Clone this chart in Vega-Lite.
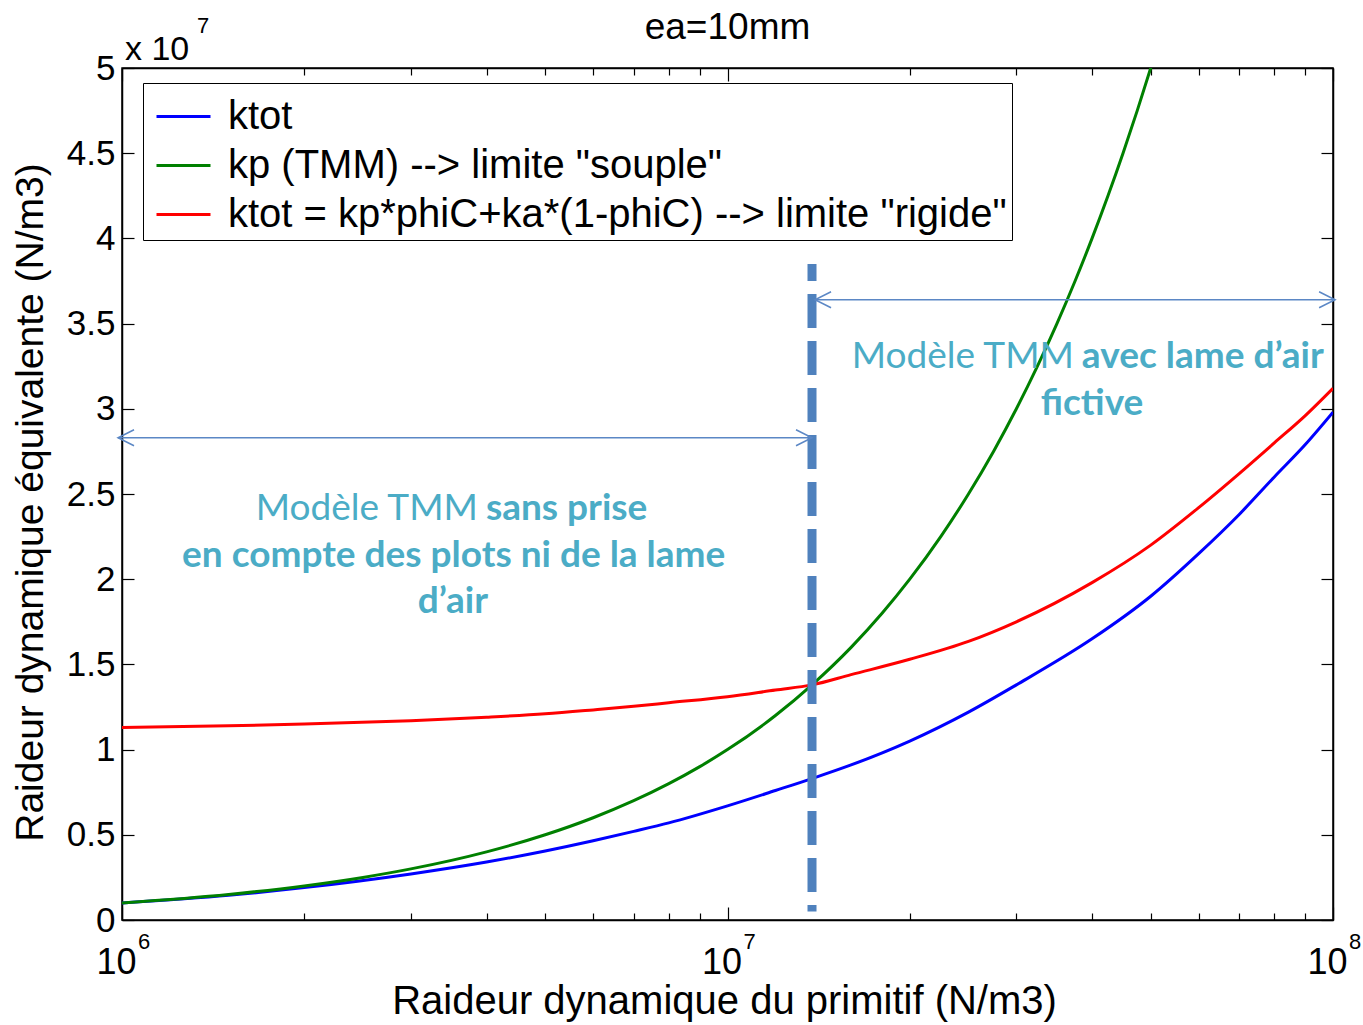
{
  "$schema": "https://vega.github.io/schema/vega-lite/v6.json",
  "width": 1211,
  "height": 852,
  "autosize": {"type": "none"},
  "padding": {"left": 122, "top": 68, "right": 30, "bottom": 105},
  "background": "white",
  "config": {
    "font": "Liberation Sans",
    "view": {"stroke": "black", "strokeWidth": 1.5},
    "axis": {"grid": false, "domainColor": "black", "domainWidth": 1.5, "tickColor": "black", "tickWidth": 1.2, "labelColor": "black", "titleColor": "black", "labelFont": "Liberation Sans", "titleFont": "Liberation Sans", "titleFontWeight": "normal", "labelOverlap": false, "labelFlush": false, "labelBound": false}
  },
  "datasets": {
    "curves": [
      {"serie": "ktot", "k": 1000000, "v": 0.10},
      {"serie": "ktot", "k": 1500000, "v": 0.145},
      {"serie": "ktot", "k": 2000000, "v": 0.19},
      {"serie": "ktot", "k": 3000000, "v": 0.27},
      {"serie": "ktot", "k": 4000000, "v": 0.34},
      {"serie": "ktot", "k": 5000000, "v": 0.405},
      {"serie": "ktot", "k": 6000000, "v": 0.465},
      {"serie": "ktot", "k": 7000000, "v": 0.52},
      {"serie": "ktot", "k": 8000000, "v": 0.57},
      {"serie": "ktot", "k": 10000000, "v": 0.67},
      {"serie": "ktot", "k": 12000000, "v": 0.76},
      {"serie": "ktot", "k": 13790000, "v": 0.83},
      {"serie": "ktot", "k": 16000000, "v": 0.91},
      {"serie": "ktot", "k": 20000000, "v": 1.05},
      {"serie": "ktot", "k": 25000000, "v": 1.22},
      {"serie": "ktot", "k": 30000000, "v": 1.38},
      {"serie": "ktot", "k": 40000000, "v": 1.65},
      {"serie": "ktot", "k": 50000000, "v": 1.9},
      {"serie": "ktot", "k": 60000000, "v": 2.15},
      {"serie": "ktot", "k": 70000000, "v": 2.38},
      {"serie": "ktot", "k": 80000000, "v": 2.6},
      {"serie": "ktot", "k": 90000000, "v": 2.79},
      {"serie": "ktot", "k": 100000000, "v": 2.98},
      {"serie": "kp (TMM) --> limite \"souple\"", "k": 1000000, "v": 0.1},
      {"serie": "kp (TMM) --> limite \"souple\"", "k": 1500000, "v": 0.15},
      {"serie": "kp (TMM) --> limite \"souple\"", "k": 2000000, "v": 0.2},
      {"serie": "kp (TMM) --> limite \"souple\"", "k": 2500000, "v": 0.25},
      {"serie": "kp (TMM) --> limite \"souple\"", "k": 3000000, "v": 0.3},
      {"serie": "kp (TMM) --> limite \"souple\"", "k": 4000000, "v": 0.4},
      {"serie": "kp (TMM) --> limite \"souple\"", "k": 5000000, "v": 0.5},
      {"serie": "kp (TMM) --> limite \"souple\"", "k": 6000000, "v": 0.6},
      {"serie": "kp (TMM) --> limite \"souple\"", "k": 7000000, "v": 0.7},
      {"serie": "kp (TMM) --> limite \"souple\"", "k": 8000000, "v": 0.8},
      {"serie": "kp (TMM) --> limite \"souple\"", "k": 9000000, "v": 0.9},
      {"serie": "kp (TMM) --> limite \"souple\"", "k": 10000000, "v": 1.0},
      {"serie": "kp (TMM) --> limite \"souple\"", "k": 12000000, "v": 1.2},
      {"serie": "kp (TMM) --> limite \"souple\"", "k": 13790000, "v": 1.38},
      {"serie": "kp (TMM) --> limite \"souple\"", "k": 16000000, "v": 1.6},
      {"serie": "kp (TMM) --> limite \"souple\"", "k": 18000000, "v": 1.8},
      {"serie": "kp (TMM) --> limite \"souple\"", "k": 20000000, "v": 2.0},
      {"serie": "kp (TMM) --> limite \"souple\"", "k": 22500000, "v": 2.25},
      {"serie": "kp (TMM) --> limite \"souple\"", "k": 25000000, "v": 2.5},
      {"serie": "kp (TMM) --> limite \"souple\"", "k": 27500000, "v": 2.75},
      {"serie": "kp (TMM) --> limite \"souple\"", "k": 30000000, "v": 3.0},
      {"serie": "kp (TMM) --> limite \"souple\"", "k": 32500000, "v": 3.25},
      {"serie": "kp (TMM) --> limite \"souple\"", "k": 35000000, "v": 3.5},
      {"serie": "kp (TMM) --> limite \"souple\"", "k": 37500000, "v": 3.75},
      {"serie": "kp (TMM) --> limite \"souple\"", "k": 40000000, "v": 4.0},
      {"serie": "kp (TMM) --> limite \"souple\"", "k": 42500000, "v": 4.25},
      {"serie": "kp (TMM) --> limite \"souple\"", "k": 45000000, "v": 4.5},
      {"serie": "kp (TMM) --> limite \"souple\"", "k": 47500000, "v": 4.75},
      {"serie": "kp (TMM) --> limite \"souple\"", "k": 50000000, "v": 5.0},
      {"serie": "kp (TMM) --> limite \"souple\"", "k": 52500000, "v": 5.25},
      {"serie": "kp (TMM) --> limite \"souple\"", "k": 55000000, "v": 5.5},
      {"serie": "ktot = kp*phiC+ka*(1-phiC) --> limite \"rigide\"", "k": 1000000, "v": 1.13},
      {"serie": "ktot = kp*phiC+ka*(1-phiC) --> limite \"rigide\"", "k": 1500000, "v": 1.14},
      {"serie": "ktot = kp*phiC+ka*(1-phiC) --> limite \"rigide\"", "k": 2000000, "v": 1.15},
      {"serie": "ktot = kp*phiC+ka*(1-phiC) --> limite \"rigide\"", "k": 3000000, "v": 1.17},
      {"serie": "ktot = kp*phiC+ka*(1-phiC) --> limite \"rigide\"", "k": 4000000, "v": 1.19},
      {"serie": "ktot = kp*phiC+ka*(1-phiC) --> limite \"rigide\"", "k": 5000000, "v": 1.21},
      {"serie": "ktot = kp*phiC+ka*(1-phiC) --> limite \"rigide\"", "k": 6000000, "v": 1.233},
      {"serie": "ktot = kp*phiC+ka*(1-phiC) --> limite \"rigide\"", "k": 7000000, "v": 1.254},
      {"serie": "ktot = kp*phiC+ka*(1-phiC) --> limite \"rigide\"", "k": 8000000, "v": 1.275},
      {"serie": "ktot = kp*phiC+ka*(1-phiC) --> limite \"rigide\"", "k": 10000000, "v": 1.31},
      {"serie": "ktot = kp*phiC+ka*(1-phiC) --> limite \"rigide\"", "k": 12000000, "v": 1.35},
      {"serie": "ktot = kp*phiC+ka*(1-phiC) --> limite \"rigide\"", "k": 13790000, "v": 1.38},
      {"serie": "ktot = kp*phiC+ka*(1-phiC) --> limite \"rigide\"", "k": 16000000, "v": 1.44},
      {"serie": "ktot = kp*phiC+ka*(1-phiC) --> limite \"rigide\"", "k": 20000000, "v": 1.53},
      {"serie": "ktot = kp*phiC+ka*(1-phiC) --> limite \"rigide\"", "k": 25000000, "v": 1.635},
      {"serie": "ktot = kp*phiC+ka*(1-phiC) --> limite \"rigide\"", "k": 30000000, "v": 1.75},
      {"serie": "ktot = kp*phiC+ka*(1-phiC) --> limite \"rigide\"", "k": 40000000, "v": 1.98},
      {"serie": "ktot = kp*phiC+ka*(1-phiC) --> limite \"rigide\"", "k": 50000000, "v": 2.2},
      {"serie": "ktot = kp*phiC+ka*(1-phiC) --> limite \"rigide\"", "k": 60000000, "v": 2.42},
      {"serie": "ktot = kp*phiC+ka*(1-phiC) --> limite \"rigide\"", "k": 70000000, "v": 2.62},
      {"serie": "ktot = kp*phiC+ka*(1-phiC) --> limite \"rigide\"", "k": 80000000, "v": 2.8},
      {"serie": "ktot = kp*phiC+ka*(1-phiC) --> limite \"rigide\"", "k": 90000000, "v": 2.96},
      {"serie": "ktot = kp*phiC+ka*(1-phiC) --> limite \"rigide\"", "k": 100000000, "v": 3.12}
    ]
  },
  "layer": [
    {
      "data": {"name": "curves"},
      "mark": {"type": "line", "strokeWidth": 3, "clip": true, "interpolate": "monotone"},
      "encoding": {
        "x": {"field": "k", "type": "quantitative",
          "scale": {"type": "log", "domain": [1000000, 100000000], "nice": false},
          "axis": {"orient": "bottom",
            "values": [1000000, 2000000, 3000000, 4000000, 5000000, 6000000, 7000000, 8000000, 9000000, 10000000, 20000000, 30000000, 40000000, 50000000, 60000000, 70000000, 80000000, 90000000, 100000000],
            "labelExpr": "(datum.value == 1000000 || datum.value == 10000000 || datum.value == 100000000) ? '10' : ''",
            "tickSize": {"condition": {"test": "datum.value == 1000000 || datum.value == 10000000 || datum.value == 100000000", "value": -13}, "value": -7},
            "labelFontSize": 36, "labelAlign": "center", "labelOffset": -6, "labelPadding": 38, "labelBaseline": "top",
            "title": "Raideur dynamique du primitif (N/m3)", "titleFontSize": 40,
            "titleX": 602, "titleY": 93, "titleBaseline": "alphabetic", "titleAlign": "center", "titleAnchor": null}},
        "y": {"field": "v", "type": "quantitative",
          "scale": {"domain": [0, 5], "nice": false, "zero": false},
          "axis": {"orient": "left",
            "values": [0, 0.5, 1, 1.5, 2, 2.5, 3, 3.5, 4, 4.5, 5],
            "labelExpr": "datum.value + ''",
            "tickSize": -12, "labelFontSize": 35, "labelPadding": 19, "labelBaseline": "middle",
            "title": "Raideur dynamique équivalente (N/m3)", "titleFontSize": 39,
            "titleX": -80, "titleY": 434, "titleAngle": -90, "titleBaseline": "alphabetic", "titleAlign": "center", "titleAnchor": null}},
        "color": {"field": "serie", "type": "nominal", "sort": null,
          "scale": {"domain": ["ktot", "kp (TMM) --> limite \"souple\"", "ktot = kp*phiC+ka*(1-phiC) --> limite \"rigide\""], "range": ["#0000ff", "#008000", "#ff0000"]},
          "legend": {"orient": "none", "legendX": 21, "legendY": 15, "title": null,
            "strokeColor": "black", "fillColor": "white", "padding": 5,
            "symbolType": "stroke", "symbolStrokeWidth": 3, "symbolSize": 2916, "symbolOpacity": 1, "symbolOffset": 7,
            "labelFontSize": 40, "labelFont": "Liberation Sans", "labelColor": "black", "labelLimit": 1200, "labelOffset": 16, "rowPadding": -4}}
      }
    },
    {
      "data": {"values": [{"k": 13790000, "y1": 0.05, "y2": 3.85}]},
      "mark": {"type": "rule", "color": "#4f81bd", "strokeWidth": 9, "strokeDash": [34, 13], "strokeDashOffset": 17},
      "encoding": {
        "x": {"field": "k", "type": "quantitative",
          "axis": {"orient": "top", "values": [1000000, 2000000, 3000000, 4000000, 5000000, 6000000, 7000000, 8000000, 9000000, 10000000, 20000000, 30000000, 40000000, 50000000, 60000000, 70000000, 80000000, 90000000, 100000000],
            "labels": false, "title": null,
            "tickSize": {"condition": {"test": "datum.value == 1000000 || datum.value == 10000000 || datum.value == 100000000", "value": -13}, "value": -7}}},
        "y": {"field": "y2", "type": "quantitative",
          "axis": {"orient": "right", "values": [0, 0.5, 1, 1.5, 2, 2.5, 3, 3.5, 4, 4.5, 5], "labels": false, "title": null, "tickSize": -12}},
        "y2": {"field": "y1"}
      }
    },
    {
      "data": {"values": [{"a": 985000, "b": 13790000, "y": 2.83}, {"a": 13950000, "b": 100800000, "y": 3.64}]},
      "mark": {"type": "rule", "color": "#5b87c5", "strokeWidth": 1.5, "clip": false},
      "encoding": {
        "x": {"field": "a", "type": "quantitative", "axis": null},
        "x2": {"field": "b"},
        "y": {"field": "y", "type": "quantitative", "axis": null}
      }
    },
    {
      "data": {"values": [{"k": 985000, "y": 2.83}, {"k": 13950000, "y": 3.64}]},
      "mark": {"type": "point", "shape": "M 1 -0.5 L 0 0 L 1 0.5", "size": 1024, "filled": false, "stroke": "#5b87c5", "strokeWidth": 1.5, "opacity": 1, "clip": false},
      "encoding": {
        "x": {"field": "k", "type": "quantitative", "axis": null},
        "y": {"field": "y", "type": "quantitative", "axis": null}
      }
    },
    {
      "data": {"values": [{"k": 13790000, "y": 2.83}, {"k": 100800000, "y": 3.64}]},
      "mark": {"type": "point", "shape": "M -1 -0.5 L 0 0 L -1 0.5", "size": 1024, "filled": false, "stroke": "#5b87c5", "strokeWidth": 1.5, "opacity": 1, "clip": false},
      "encoding": {
        "x": {"field": "k", "type": "quantitative", "axis": null},
        "y": {"field": "y", "type": "quantitative", "axis": null}
      }
    },
    {
      "data": {"values": [{"k": 3930000, "y": 2.347, "t": "Modèle TMM"}, {"k": 37900000, "y": 3.239, "t": "Modèle TMM"}]},
      "mark": {"type": "text", "font": "Lato", "fontSize": 37, "fontWeight": "normal", "color": "#4bacc6", "align": "right", "baseline": "alphabetic", "dx": -4},
      "encoding": {
        "x": {"field": "k", "type": "quantitative", "axis": null},
        "y": {"field": "y", "type": "quantitative", "axis": null},
        "text": {"field": "t"}
      }
    },
    {
      "data": {"values": [{"k": 3930000, "y": 2.347, "t": "sans prise"}, {"k": 37900000, "y": 3.239, "t": "avec lame d’air"}]},
      "mark": {"type": "text", "font": "Lato", "fontSize": 37, "fontWeight": "bold", "color": "#4bacc6", "align": "left", "baseline": "alphabetic", "dx": 4},
      "encoding": {
        "x": {"field": "k", "type": "quantitative", "axis": null},
        "y": {"field": "y", "type": "quantitative", "axis": null},
        "text": {"field": "t"}
      }
    },
    {
      "data": {"values": [{"k": 3530000, "y": 2.072, "t": "en compte des plots ni de la lame"}, {"k": 3520000, "y": 1.802, "t": "d’air"}, {"k": 40000000, "y": 2.964, "t": "fictive"}]},
      "mark": {"type": "text", "font": "Lato", "fontSize": 37, "fontWeight": "bold", "color": "#4bacc6", "align": "center", "baseline": "alphabetic"},
      "encoding": {
        "x": {"field": "k", "type": "quantitative", "axis": null},
        "y": {"field": "y", "type": "quantitative", "axis": null},
        "text": {"field": "t"}
      }
    },
    {
      "data": {"values": [{"k": 1000000, "e": "6"}, {"k": 10000000, "e": "7"}, {"k": 100000000, "e": "8"}]},
      "mark": {"type": "text", "fontSize": 22, "color": "black", "align": "left", "baseline": "alphabetic", "dx": 16, "dy": 29, "clip": false},
      "encoding": {
        "x": {"field": "k", "type": "quantitative", "axis": null},
        "y": {"datum": 0, "type": "quantitative", "axis": null},
        "text": {"field": "e"}
      }
    },
    {
      "data": {"values": [{"k": 1000000, "v": 5, "t": "x 10", "e": "7"}]},
      "layer": [
        {"mark": {"type": "text", "fontSize": 34, "color": "black", "align": "left", "baseline": "alphabetic", "dx": 3, "dy": -8},
         "encoding": {"x": {"field": "k", "type": "quantitative", "axis": null}, "y": {"field": "v", "type": "quantitative", "axis": null}, "text": {"field": "t"}}},
        {"mark": {"type": "text", "fontSize": 22, "color": "black", "align": "left", "baseline": "alphabetic", "dx": 75, "dy": -35},
         "encoding": {"x": {"field": "k", "type": "quantitative", "axis": null}, "y": {"field": "v", "type": "quantitative", "axis": null}, "text": {"field": "e"}}}
      ]
    },
    {
      "data": {"values": [{"k": 10000000, "v": 5, "t": "ea=10mm"}]},
      "mark": {"type": "text", "fontSize": 37, "color": "black", "align": "center", "baseline": "alphabetic", "dy": -29},
      "encoding": {"x": {"field": "k", "type": "quantitative", "axis": null}, "y": {"field": "v", "type": "quantitative", "axis": null}, "text": {"field": "t"}}
    }
  ],
  "resolve": {"axis": {"x": "independent", "y": "independent"}}
}
